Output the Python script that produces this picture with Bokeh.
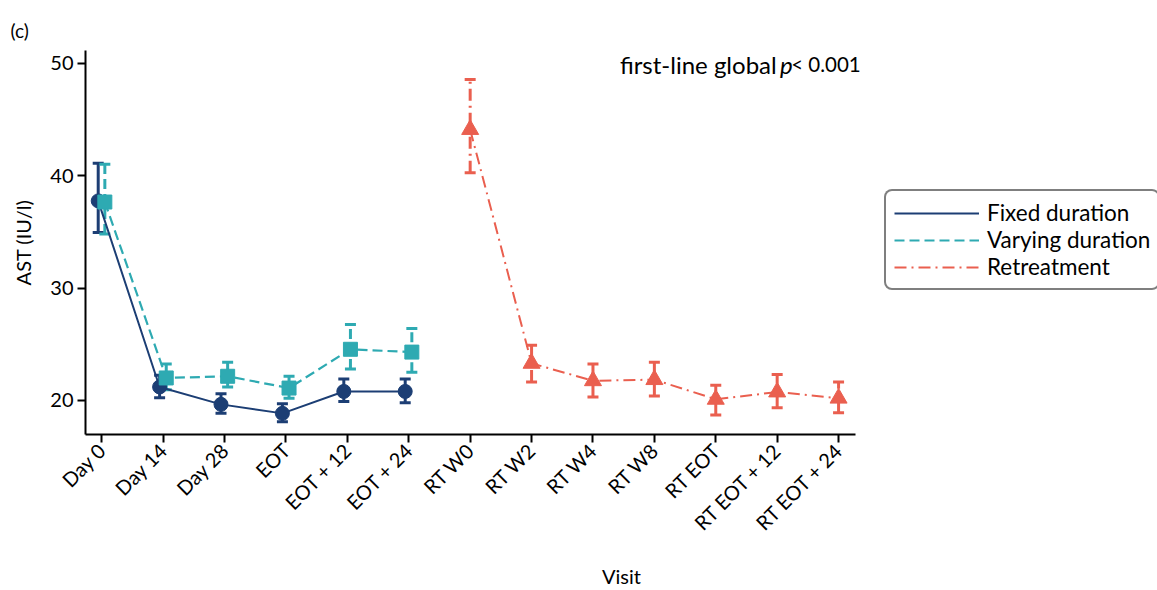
import math
from bokeh.plotting import figure
from bokeh.models import (ColumnDataSource, Whisker, TeeHead, FixedTicker, Legend,
                          LegendItem, Label, Range1d, Title)
from bokeh.embed import file_html
from bokeh.resources import INLINE

# ---------------- data ----------------
visits = ["Day 0", "Day 14", "Day 28", "EOT", "EOT + 12", "EOT + 24",
          "RT W0", "RT W2", "RT W4", "RT W8", "RT EOT", "RT EOT + 12", "RT EOT + 24"]

fixed_visit = [0, 1, 2, 3, 4, 5]
fixed_mean = [37.75, 21.2, 19.65, 18.85, 20.8, 20.8]
fixed_lower = [34.95, 20.25, 18.85, 18.1, 19.9, 19.8]
fixed_upper = [41.1, 22.25, 20.6, 19.7, 21.9, 21.9]

vary_visit = [0, 1, 2, 3, 4, 5]
vary_mean = [37.65, 22.0, 22.15, 21.1, 24.55, 24.3]
vary_lower = [34.8, 20.95, 21.2, 20.2, 22.8, 22.5]
vary_upper = [41.0, 23.25, 23.4, 22.15, 26.75, 26.4]

rt_visit = [6, 7, 8, 9, 10, 11, 12]
rt_mean = [44.1, 23.3, 21.75, 21.85, 20.1, 20.75, 20.2]
rt_lower = [40.25, 21.65, 20.3, 20.4, 18.7, 19.35, 18.9]
rt_upper = [48.55, 24.9, 23.25, 23.4, 21.35, 22.3, 21.65]

y_ticks = [20, 30, 40, 50]

# ---------------- style ----------------
FONT = "Lato"
NAVY = "#1c3e74"
TEAL = "#2eaab2"
RED = "#ea5f4f"

X0, X1 = -0.265, 12.28          # extent of the drawn x axis
PX_PER_UNIT = 61.4
W, H = 1157, 590
LEFT, TOP, BOTTOM = 85, 50, 153
x_end = X0 + (W - LEFT) / PX_PER_UNIT

p = figure(width=W, height=H, output_backend="svg", toolbar_location=None,
           x_range=Range1d(X0, x_end), y_range=Range1d(16.97, 51.13),
           min_border_left=LEFT, min_border_right=0, min_border_top=TOP,
           min_border_bottom=BOTTOM)
p.outline_line_color = None
p.xgrid.visible = False
p.ygrid.visible = False
p.background_fill_color = "white"
p.border_fill_color = "white"

p.title = Title(text="(c)", align="left", offset=-75, standoff=17, text_font=FONT,
                text_font_size="19px", text_font_style="normal", text_color="black")

def series(xs, offset, mean, lo, hi, color, dash, marker, msize, lw):
    src = ColumnDataSource(dict(x=[v + offset for v in xs], y=mean, lo=lo, hi=hi))
    ln = p.line("x", "y", source=src, line_color=color, line_width=lw, line_dash=dash)
    w = Whisker(base="x", upper="hi", lower="lo", source=src, dimension="height",
                line_color=color, line_width=3, line_dash=dash,
                upper_head=TeeHead(size=11, line_color=color, line_width=3),
                lower_head=TeeHead(size=11, line_color=color, line_width=3))
    p.add_layout(w)
    p.scatter("x", "y", source=src, marker=marker, size=msize, fill_color=color,
              line_color=color)
    return ln

r_fixed = series(fixed_visit, -0.058, fixed_mean, fixed_lower, fixed_upper, NAVY,
                 "solid", "circle", 14, 2)
r_vary = series(vary_visit, 0.05, vary_mean, vary_lower, vary_upper, TEAL,
                "10 5", "square", 14, 2.2)
r_rt = series(rt_visit, 0.0, rt_mean, rt_lower, rt_upper, RED,
              "12 5 2 5", "triangle", 17, 2)

# ---------------- axes ----------------
xa = p.xaxis[0]
xa.ticker = FixedTicker(ticks=list(range(len(visits))))
xa.major_label_overrides = {i: v for i, v in enumerate(visits)}
xa.major_label_orientation = math.pi / 4
xa.bounds = (X0, X1)
xa.axis_label = "Visit"
xa.axis_label_standoff = 18

ya = p.yaxis[0]
ya.ticker = FixedTicker(ticks=y_ticks)
ya.axis_label = "AST (IU/l)"
ya.axis_label_standoff = 12

for ax in (xa, ya):
    ax.axis_line_width = 2
    ax.axis_line_color = "black"
    ax.major_tick_line_width = 2
    ax.major_tick_line_color = "black"
    ax.major_tick_out = 8
    ax.major_tick_in = 0
    ax.minor_tick_line_color = None
    ax.major_label_text_font = FONT
    ax.major_label_text_font_size = "20px"
    ax.major_label_text_color = "black"
    ax.axis_label_text_font = FONT
    ax.axis_label_text_font_size = "20px"
    ax.axis_label_text_font_style = "normal"
    ax.axis_label_text_color = "black"
    ax.major_label_standoff = 4

# ---------------- legend ----------------
legend = Legend(items=[LegendItem(label="Fixed duration", renderers=[r_fixed]),
                       LegendItem(label="Varying duration", renderers=[r_vary]),
                       LegendItem(label="Retreatment", renderers=[r_rt])],
                location=(799, 144))
legend.glyph_width = 85
legend.glyph_height = 22
legend.label_height = 22
legend.spacing = 0
legend.padding = 8
legend.label_standoff = 8
legend.label_text_font = FONT
legend.label_text_font_size = "22.5px"
legend.label_text_color = "black"
legend.border_line_color = "black"
legend.border_line_width = 2
legend.background_fill_alpha = 1
if "border_radius" in legend.properties():
    legend.border_radius = 8
p.add_layout(legend)

# ---------------- annotation ----------------
ANN_X, ANN_Y = 12.36, 49.9
def lab(text, dx, style="normal", size="24px"):
    p.add_layout(Label(text=text, x=ANN_X, y=ANN_Y, x_offset=dx,
                       text_align="right", text_baseline="middle", text_font=FONT,
                       text_font_size=size, text_font_style=style, text_color="black"))

lab("< 0.001", 0, size="20.5px")
lab("p", -68, "italic")
lab("first-line global", -84)

open("out.html", "w").write(file_html(p, INLINE))
